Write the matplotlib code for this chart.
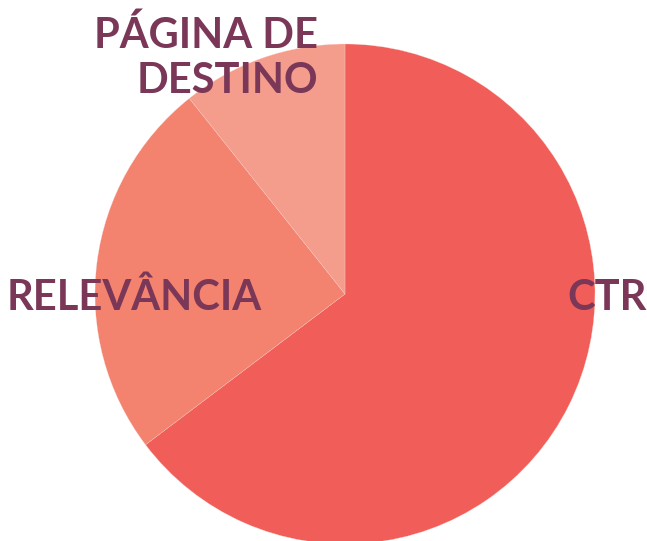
import matplotlib
matplotlib.use("Agg")
import matplotlib.pyplot as plt

# dados do grafico
categorias = ["CTR", "RELEVÂNCIA", "PÁGINA DE\nDESTINO"]
valores = [64.7, 24.6, 10.7]
cores = ["#F15E59", "#F3826F", "#F59D8D"]
cor_texto = "#7A3757"

fig = plt.figure(figsize=(6.47, 5.41), dpi=100)
ax = fig.add_axes([0, 0, 1, 1])

ax.pie(valores, colors=cores, startangle=90, counterclock=False,
       radius=1, center=(0, 0),
       wedgeprops=dict(edgecolor="#FBD3CC", linewidth=0.2))

# rotulos posicionados a mao, como no original
pos = [(1.048, -0.016, "center"), (-0.844, -0.016, "center"), (-0.108, 0.946, "right")]
for (x, y, ha), txt in zip(pos, categorias):
    ax.text(x, y, txt, ha=ha, va="center", multialignment="right",
            fontsize=30, fontweight="bold", family="Lato", color=cor_texto,
            linespacing=1.22)

ax.set_xlim(-1.38, 1.208)
ax.set_ylim(-0.988, 1.176)
ax.set_aspect("equal")
ax.axis("off")

fig.savefig("out.png", dpi=100)
